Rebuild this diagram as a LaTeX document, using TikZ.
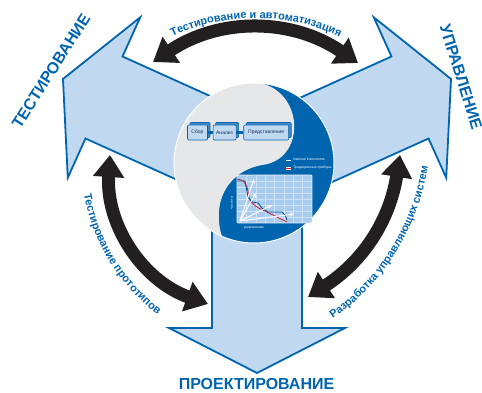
\documentclass[tikz,border=0pt]{standalone}
\usepackage{fontspec}
\setmainfont{Liberation Sans}
\usetikzlibrary{positioning,arrows.meta,shadows,decorations.text}

\definecolor{nblue}{RGB}{0,100,175}
\definecolor{lblue}{RGB}{192,217,241}
\definecolor{mblue}{RGB}{70,135,200}
\definecolor{cgrey}{RGB}{230,231,232}
\definecolor{nblack}{RGB}{35,31,32}
\definecolor{cgrid}{RGB}{168,204,238}
\definecolor{nred}{RGB}{225,30,40}
\definecolor{ntext}{RGB}{20,50,90}

\newcommand{\arcfont}{\bfseries\fontsize{11}{13}\selectfont}

\begin{document}
\begin{tikzpicture}[x=1pt,y=1pt,>=stealth,node distance=4pt,
  bigarrow/.style={fill=lblue,draw=nblue,line width=1.8pt,line join=miter},
  blackarrow/.style={draw=nblack,line width=13pt,{Triangle[width=30pt,length=22pt]}-{Triangle[width=30pt,length=22pt]}},
  biglabel/.style={text=nblue,font=\bfseries\fontsize{16}{18}\selectfont,inner sep=0pt},
  arclabel/.style={decorate,decoration={text along path,text={|\arcfont|#1},text align=center,text color=nblue}},
  box/.style={draw=nblue,fill=lblue,line width=0.6pt,rounded corners=1pt,minimum height=15pt,inner sep=0.5pt,
    font=\fontsize{5}{6}\selectfont,text=ntext,
    general shadow={draw=nblue,fill=mblue,line width=0.6pt,shadow xshift=2.5pt,shadow yshift=2.5pt}},
  boxlink/.style={draw=nblue,line width=2.5pt},
  legbox/.style={draw=nblue,fill=white,line width=0.3pt,minimum width=6pt,minimum height=3.5pt,inner sep=0pt},
  gridline/.style={draw=white!45!cgrid,line width=0.4pt},
  tinytext/.style={text=white,font=\fontsize{3.4}{4}\selectfont,inner sep=0pt}]

  \useasboundingbox (0,-393) rectangle (482,0);

  % three big block arrows
  \draw[bigarrow,shift={(104,-97.5)},rotate=-114.3] (-45,150) -- (-45,0) -- (-88,0) -- (0,-45) -- (88,0) -- (45,0) -- (45,150) -- cycle;
  \draw[bigarrow,shift={(410,-97.5)},rotate=114.3] (-45,150) -- (-45,0) -- (-88,0) -- (0,-45) -- (88,0) -- (45,0) -- (45,150) -- cycle;
  \draw[bigarrow,shift={(257,-328)}] (-45,150) -- (-45,0) -- (-88,0) -- (0,-45) -- (88,0) -- (45,0) -- (45,150) -- cycle;

  % yin-yang
  \coordinate (o) at (254,-163);
  \fill[nblue] (o) circle[radius=80];
  \fill[cgrey] (262,-83.4) arc[start angle=84.3,end angle=246.3,radius=80]
    .. controls (212,-205) and (225,-172) .. (262,-165)
    .. controls (305,-160) and (305,-95) .. (262,-83.4) -- cycle;
  \draw[white,line width=1pt] (o) circle[radius=80];

  \node[box,minimum width=20pt] (1) at (197.5,-132.5) {Сбор};
  \node[box,minimum width=23pt,right=5pt of 1] (2) {Анализ};
  \node[box,minimum width=45pt,right=7pt of 2] (3) {Представление};
  \draw[boxlink] (1) -- (2);
  \draw[boxlink] (2) -- (3);

  \node[legbox] (l1) at (288,-159.5) {};
  \node[legbox] (l2) at (288,-168) {};
  \draw[nblue,line width=0.8pt] (l1.west) -- (l1.east);
  \draw[nred,line width=0.8pt] (l2.west) -- (l2.east);
  \node[tinytext,right=2pt of l1] (n1) {National Instruments};
  \node[tinytext,right=2pt of l2] (n2) {Традиционные приборы};

  % chart
  \begin{scope}[shift={(237,-223)}]
    \fill[cgrid] (0,0) rectangle (75,48);
    \foreach \i in {1,...,7} {
      \draw[gridline] (\i*9.375,0) -- (\i*9.375,48);
      \draw[gridline] (0,\i*6) -- (75,\i*6);
    }
    \draw[white!75!cgrid,line width=0.8pt,rounded corners=1pt] (0,0) rectangle (75,48);
    \draw[nred,line width=0.8pt] plot[smooth] coordinates {(0,44) (6,42) (10,36) (13,23) (20,16) (30,11) (40,6) (50,1)};
    \draw[nblue!80!black,line width=0.8pt] (0,42) -- (8,42) -- (11,26) -- (15,21) -- (21,20) -- (25,15) -- (31,11) -- (45,11) -- (48,8) -- (50,3);
    \coordinate (c0) at (3,2);
    \coordinate (a1) at (17,44);
    \coordinate (a2) at (19,30);
    \coordinate (a3) at (35,18);
    \coordinate (a4) at (57,9);
    \draw[->,white,line width=1pt] (c0) -- (a1);
    \draw[->,white,line width=1pt] (c0) -- (a2);
    \draw[->,white,line width=1pt] (c0) -- (a3);
    \draw[->,white,line width=1pt] (c0) -- (a4);
    \node[tinytext,rotate=90] (fy) at (-5,20) {частота};
    \node[tinytext] (fx) at (17,-5) {разрешение};
  \end{scope}

  % black double arrows
  \coordinate (t1) at (153,-62);
  \coordinate (t2) at (358,-63);
  \coordinate (p1) at (110,-155);
  \coordinate (p2) at (208,-304);
  \coordinate (r1) at (400,-155);
  \coordinate (r2) at (308,-297);
  \draw[blackarrow] (t1) to[bend left=34] (t2);
  \draw[blackarrow] (p1) to[bend right=37] (p2);
  \draw[blackarrow] (r2) to[bend right=24] (r1);

  \path[arclabel={Тестирование и автоматизация}] ([shift={(124:196)}]256,-214) arc[start angle=124,end angle=56,radius=196];
  \path[arclabel={Тестирование прототипов}] ([shift={(186:192)}]273,-161) arc[start angle=186,end angle=237,radius=192];
  \path[arclabel={Разработка управляющих систем}] ([shift={(-60:231)}]200,-130) arc[start angle=-60,end angle=-4,radius=231];

  \node[biglabel,rotate=57.6] (test) at (51,-71) {ТЕСТИРОВАНИЕ};
  \node[biglabel,rotate=-72.6] (upr) at (461,-77) {УПРАВЛЕНИЕ};
  \node[biglabel] (proj) at (256.5,-384) {ПРОЕКТИРОВАНИЕ};
\end{tikzpicture}
\end{document}
